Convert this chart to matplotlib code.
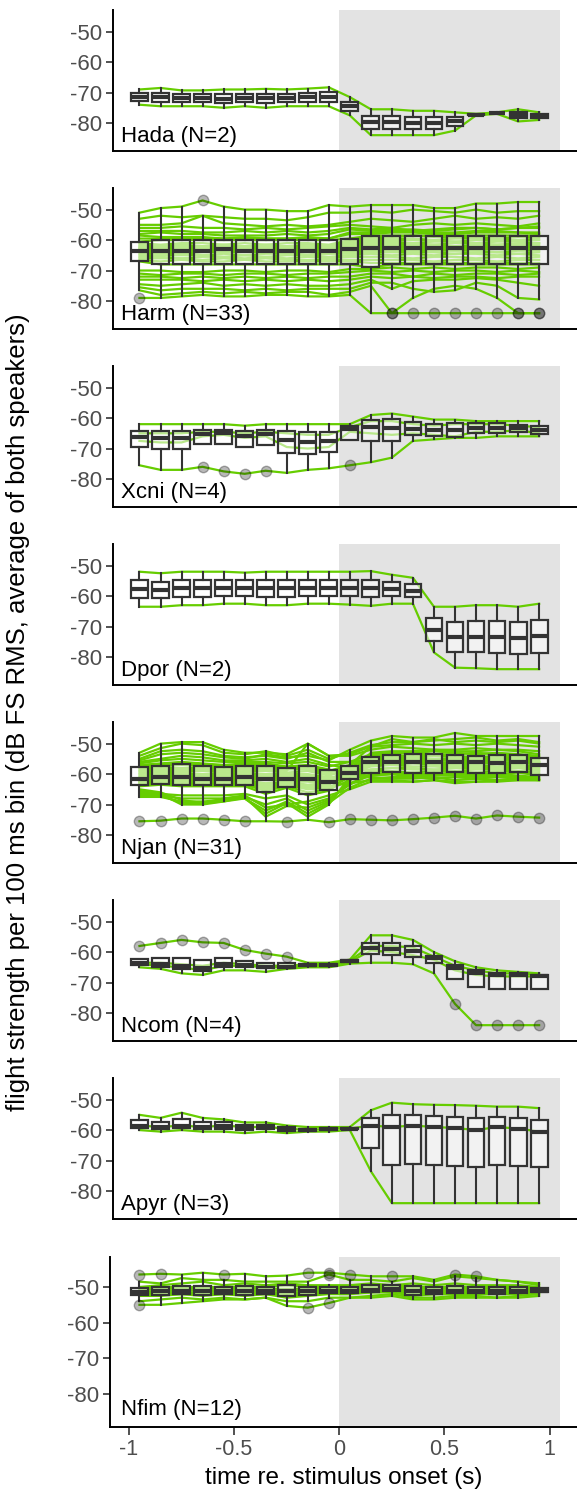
import matplotlib
matplotlib.use("Agg")
import matplotlib.pyplot as plt

plt.rcParams['font.family'] = ['Liberation Sans', 'DejaVu Sans']
plt.rcParams['axes.unicode_minus'] = False

# 100 ms bin centres (s re. stimulus onset)
bins = [-0.95, -0.85, -0.75, -0.65, -0.55, -0.45, -0.35, -0.25, -0.15, -0.05,
        0.05, 0.15, 0.25, 0.35, 0.45, 0.55, 0.65, 0.75, 0.85, 0.95]

# one list per recording, one value per bin (dB FS RMS)
hada = [
    [-69, -68.5, -69.3, -69.3, -69, -69, -68.8, -69, -68.7, -68.3, -71.5, -75.5, -75.5, -76, -76, -76.5, -77, -76.5, -75.5, -76.5],
    [-74, -74.5, -74.5, -74.5, -75, -74.5, -75, -74.5, -74.5, -74.5, -77.5, -84, -84, -84, -84, -82.5, -77.5, -77, -79.5, -79],
]

harm = [
    [-51, -49.5, -49, -47, -49, -50, -50, -50.5, -50.5, -48.5, -49, -48.5, -48.5, -48.5, -49.5, -49.5, -48, -48, -47.5, -47.5],
    [-53, -52, -52.5, -52, -52.5, -53, -53, -53.5, -52.5, -51, -51, -50.5, -51, -50, -50.5, -51, -50, -51, -50.5, -50.5],
    [-55, -55, -54.5, -52, -54.5, -55, -55.5, -55, -55.5, -55, -54, -53, -53.5, -54, -53, -52, -53, -52.5, -53, -52],
    [-56, -56, -55.5, -56, -56, -56.5, -56, -56.5, -56, -55.5, -55, -55.5, -56, -55, -54.5, -55, -54.5, -55, -55.5, -54.5],
    [-57, -57, -57, -57.5, -57.5, -57, -57.5, -57, -57.5, -57, -56, -56.5, -56, -57, -56.5, -56, -56, -56.5, -56, -55.5],
    [-58, -57.5, -58, -58, -58.5, -58.5, -58.5, -58, -58.5, -58, -56.5, -57, -56.5, -56.5, -57, -56.5, -56, -56.5, -56, -56],
    [-58.5, -59, -59, -59, -59.5, -59, -59.5, -59.5, -59, -59.5, -57.5, -57.5, -57, -57, -57.5, -57.5, -57, -57, -57.5, -57.5],
    [-59.5, -59.5, -59.5, -59.5, -59.5, -59.5, -59.5, -59.5, -59.5, -59.5, -58, -58, -57.5, -57.5, -58, -58, -57.5, -57.5, -57.5, -58],
    [-60.5, -60, -60, -60, -60, -60, -60, -60, -60, -60, -59.5, -58.5, -58.5, -58.5, -58.5, -58.5, -58.5, -58.5, -58.5, -58.5],
    [-61, -61.5, -61, -61, -61.5, -61, -61.5, -61, -61, -61.5, -60, -59, -59, -58.5, -59, -59, -59, -59.5, -59, -59],
    [-61.5, -62, -61.5, -62, -61.5, -62, -61.5, -62, -61.5, -62, -60.5, -59.5, -59.5, -59.5, -60, -59.5, -59.5, -59.5, -60, -59.5],
    [-62, -62, -62.5, -62, -62, -62.5, -62, -62, -62.5, -62, -61, -60, -60, -60, -60, -60.5, -60, -60, -60, -60],
    [-62.5, -62.5, -62, -62.5, -62.5, -62, -62.5, -62.5, -62, -62.5, -61.5, -60.5, -60.5, -61, -60.5, -60.5, -61, -60.5, -60.5, -61],
    [-62.5, -63, -62.5, -63, -62.5, -62.5, -63, -62.5, -63, -63, -62, -61, -61, -61, -61.5, -61, -61, -61.5, -61, -61],
    [-63, -62.5, -63, -62.5, -63, -63, -62.5, -63, -62.5, -63, -62, -61.5, -61.5, -61.5, -61.5, -62, -61.5, -61.5, -61.5, -61.5],
    [-63, -63, -63, -63, -63, -63.5, -63, -63, -63, -63.5, -62.5, -62, -62, -62, -62, -62, -62, -62, -62, -62],
    [-63.5, -63.5, -63.5, -63.5, -63, -63.5, -63.5, -63.5, -63.5, -63.5, -63, -62.5, -62.5, -62.5, -62.5, -62.5, -62.5, -62.5, -62.5, -62.5],
    [-63.5, -64, -63.5, -63.5, -64, -63.5, -64, -63.5, -64, -64, -63.5, -63, -63, -63, -63, -63, -63, -63, -63, -63],
    [-64, -64, -64.5, -64, -64, -64, -64, -64.5, -64, -64.5, -64, -63.5, -63.5, -63.5, -63.5, -63.5, -63.5, -64, -63.5, -63.5],
    [-64.5, -64.5, -64.5, -65, -64.5, -65, -64.5, -64.5, -65, -64.5, -64.5, -64, -64, -64, -64, -64.5, -64, -64, -64.5, -64],
    [-65, -65, -65, -65, -65.5, -65, -65.5, -65, -65, -65.5, -65, -64.5, -65, -64.5, -65, -64.5, -64.5, -65, -64.5, -65],
    [-65.5, -65.5, -66, -65.5, -65.5, -66, -65.5, -66, -65.5, -66, -65.5, -65.5, -65.5, -66, -65.5, -65.5, -66, -65.5, -66, -65.5],
    [-66, -66, -66, -66.5, -66, -66.5, -66, -66.5, -66.5, -66.5, -66.5, -66.5, -66.5, -66.5, -67, -66.5, -66.5, -67, -66.5, -66.5],
    [-66.5, -67, -66.5, -67, -67, -66.5, -67, -67, -67, -67, -67, -67.5, -67.5, -67.5, -67.5, -67.5, -67.5, -67.5, -67.5, -67.5],
    [-67, -68, -68, -68, -68, -68, -68, -68, -68, -68, -68, -69, -68, -68, -68, -68, -68, -68, -68, -68],
    [-70, -70, -70.5, -70.5, -70, -70, -70.5, -70, -70, -70.5, -69.5, -69.5, -69, -69.5, -69, -69.5, -69, -69, -69.5, -69],
    [-71, -71.5, -71, -71, -71.5, -71, -71, -71.5, -71, -71, -70.5, -70, -70.5, -70, -70.5, -70, -70, -70.5, -70, -70.5],
    [-72, -72, -72.5, -72, -72.5, -72, -72.5, -72, -72.5, -72, -72, -71, -71, -72, -71, -71.5, -71, -71, -71.5, -71],
    [-73, -73, -73, -73.5, -73, -73.5, -73, -73.5, -73, -73.5, -73, -72, -72.5, -72, -72.5, -72, -72, -72.5, -72, -72],
    [-74.5, -75, -74.5, -74, -75, -74.5, -75, -74.5, -75, -75, -74.5, -73, -76, -73.5, -73, -73, -72.5, -73, -74, -75],
    [-75.5, -76.5, -76, -76, -76, -76.5, -76, -76.5, -76, -76, -76, -74, -74, -76, -77, -76.5, -74, -75, -79, -79.5],
    [-76.5, -78, -77.5, -77, -77.5, -77, -77.5, -77, -77, -78, -77, -75, -84, -79, -76, -75, -76, -79, -84, -84],
    [-79, -79, -78.5, -78, -78.5, -78.5, -78, -78, -78.5, -78.5, -78, -84, -84, -84, -84, -84, -84, -84, -84, -84],
]

xcni = [
    [-62, -62, -62, -62, -62, -62.5, -62, -62, -62, -62, -62, -59, -58.5, -59.5, -60.5, -60.5, -61, -61, -61, -61],
    [-65, -65, -65, -64.5, -64.5, -65, -64.5, -65, -65.5, -65.5, -63, -61, -61, -62, -62.5, -62, -62, -62, -62.5, -63],
    [-67.5, -68, -68, -66, -65.5, -66.5, -66, -69.5, -70, -69.5, -64.5, -65, -65.5, -65, -65.5, -66, -64.5, -64.5, -64, -65],
    [-75.5, -77, -77, -76, -77.5, -78.3, -77.3, -78, -77, -76.5, -75.5, -74.5, -73, -67.5, -67, -66.5, -66.5, -66, -66, -66],
]

dpor = [
    [-52, -52.5, -52, -52, -52, -52.3, -52, -52, -52, -52, -52, -51.8, -53, -54, -63.5, -63.5, -63, -63, -63.5, -62.5],
    [-63.5, -63.5, -63, -63, -62.5, -62.5, -63, -63, -62.5, -62.5, -62.8, -63.2, -62.5, -62.5, -78.5, -83.5, -83.7, -84, -84, -84],
]

njan = [
    [-53, -50, -49.5, -49.5, -52, -53, -53, -53.5, -50, -54, -54, -52, -51, -51.5, -52, -52, -51.5, -52, -52, -52.5],
    [-54, -51.5, -50, -50.5, -53, -53.5, -52.5, -54, -52, -55, -53, -50.5, -49.5, -49.5, -48.5, -49.5, -49, -49.5, -49, -50],
    [-55, -52.5, -52, -52.5, -54, -54.5, -54, -55, -53, -56, -56, -55, -54.5, -55, -55.5, -55, -55, -55.5, -55, -56],
    [-55.5, -53.5, -53, -53.5, -54.5, -55, -53.5, -54.5, -54, -55.5, -52, -49, -47.5, -48, -48, -46.5, -47.5, -47.5, -47.5, -47.5],
    [-56, -55, -54, -54.5, -55.5, -55.5, -55, -56, -55, -57, -58, -57, -57, -56.5, -57, -57.5, -57, -57.5, -57, -58],
    [-56.5, -55.5, -55, -55.5, -56, -56, -56, -56.5, -56, -57.5, -56, -53.5, -53, -53, -52.5, -53, -53.5, -53, -53.5, -54],
    [-57, -56.5, -56, -56.5, -57, -56.5, -56.5, -57.5, -57, -58.5, -60, -60.5, -60, -61, -60.5, -60.5, -61, -60.5, -61, -61.5],
    [-57.5, -57, -56.5, -57, -57.5, -57, -57, -58, -57.5, -59, -57, -54.5, -54, -54, -53.5, -54, -54.5, -54, -54, -55],
    [-58, -57.5, -57, -57.5, -58, -57.5, -57.5, -58, -58, -59.5, -58, -56, -56, -55.5, -56, -56.5, -56, -56.5, -56, -57],
    [-58.5, -58, -58, -58, -58.5, -58, -58, -58.5, -58.5, -60, -59, -58.5, -58, -58.5, -58.5, -59, -58.5, -58.5, -59, -59.5],
    [-59, -58.5, -58.5, -58.5, -59, -58.5, -58.5, -59, -50, -54, -53.5, -51, -50.5, -50, -50.5, -50, -50.5, -50, -50.5, -51],
    [-59.5, -59, -59, -59, -59.5, -59, -59, -59.5, -59, -60.5, -58.5, -56, -55.5, -55, -55.5, -55.5, -56, -55.5, -55.5, -56.5],
    [-60, -59.5, -59.5, -60, -60, -59.5, -60, -60, -60, -61, -61, -61, -61.5, -61.5, -61, -62, -61.5, -62, -61.5, -62],
    [-60.5, -60, -60, -60.5, -60.5, -60, -60.5, -60.5, -60.5, -61.5, -59, -55, -54.5, -54.5, -54, -54.5, -55, -54.5, -54.5, -55.5],
    [-61, -60.5, -60.5, -61, -61, -60.5, -61, -61, -61, -62, -60, -57.5, -57, -57.5, -57.5, -58, -57.5, -58, -57.5, -58.5],
    [-61.5, -61, -61, -61.5, -61.5, -61, -61.5, -61.5, -61.5, -62.5, -58, -54, -53.5, -53, -53.5, -53.5, -53, -53.5, -53.5, -54.5],
    [-62, -61.5, -61.5, -62, -62, -61.5, -62, -62, -62, -63, -61, -59, -59, -59.5, -59, -59, -59.5, -59, -59, -60],
    [-62.5, -62, -62, -62.5, -62.5, -62, -63, -62.5, -62.5, -63.5, -59, -55.5, -55, -54.5, -55, -55, -55.5, -55, -55, -56],
    [-62.5, -61.5, -62, -62, -62, -61.5, -63.5, -62.5, -63.5, -63, -59.5, -57, -56.5, -56, -56.5, -57, -56.5, -56.5, -57, -57.5],
    [-62.5, -62, -62.5, -62.5, -62.5, -62, -64, -63, -64, -63.5, -57, -51, -48.5, -49.5, -49, -48.5, -48, -49, -48.5, -49.5],
    [-63, -62.5, -62.5, -63, -63, -62.5, -64.5, -63, -64.5, -64, -63, -62, -62, -62.5, -62, -62.5, -62.5, -62, -62, -62],
    [-63, -63, -63, -63, -63, -63, -65, -63.5, -65, -64.5, -61, -56, -55.5, -56, -55.5, -55.5, -56, -55.5, -55.5, -56.5],
    [-63.5, -63, -63.5, -63.5, -63.5, -63.5, -65.5, -64, -66, -65, -62, -58.5, -58, -58, -58.5, -58, -58, -58.5, -58, -59],
    [-64, -63.5, -64, -64, -64, -64, -66.5, -64.5, -67, -65.5, -60, -53, -52.5, -52.5, -52, -52.5, -52.5, -52, -52.5, -53.5],
    [-66.5, -66.5, -67, -67, -67, -66.5, -68, -67, -70, -68, -63.5, -60, -59.5, -60, -60, -59.5, -60, -60, -59.5, -60.5],
    [-67, -67, -68, -68, -68, -67.5, -70, -68, -72, -69, -62, -56.5, -56, -56, -56.5, -56, -56, -56.5, -56, -57],
    [-67.5, -67.5, -69, -69, -68.5, -68, -72, -69, -73, -69.5, -64.5, -61.5, -61, -61, -61.5, -61, -61.5, -61, -61.5, -61.5],
    [-66, -67, -69.5, -69.5, -69, -68, -73, -69.5, -74, -70, -61, -55.5, -55, -55.5, -55, -55, -55.5, -55, -55, -56],
    [-65.5, -66.5, -70, -70, -69, -67.5, -74, -70.5, -71, -68.5, -63, -60.5, -60, -60.5, -60, -60, -60.5, -60, -60.5, -61],
    [-65, -66, -68.5, -69.5, -68, -67, -71, -70, -69, -67, -65, -62.5, -62.5, -62.5, -62, -63, -62.5, -62.5, -62, -62],
    [-75.5, -75.3, -74.6, -74.6, -75, -75.5, -75.5, -75.6, -75, -75.8, -74.8, -75, -75.2, -74.8, -74.3, -73.7, -74.6, -73.6, -74, -74.3],
]

ncom = [
    [-58, -57, -56, -56.8, -57, -59.3, -60.5, -61.5, -63.5, -63.5, -62.5, -54.5, -54.5, -56, -60, -63, -65, -66, -66.5, -67],
    [-63.5, -63.5, -64, -64.5, -63.5, -64, -64.5, -64.5, -64, -64, -62.8, -58, -58, -58.5, -61.5, -64.5, -66, -67, -67, -67.5],
    [-64, -64.5, -65, -66, -64.5, -64.5, -65, -65, -64.5, -64.5, -63.2, -59.5, -60, -61, -62.5, -66, -67.5, -68, -68, -68],
    [-65, -65.5, -67, -67.5, -66, -66, -66.5, -65.5, -65, -65, -63.8, -63.5, -63.5, -64, -67, -77, -84, -84, -84, -84],
]

apyr = [
    [-55, -56, -54.3, -56, -56.5, -57.5, -57.5, -58.5, -59, -59, -59, -53.5, -51, -51.5, -51.7, -51.8, -52, -52.3, -52.3, -52.8],
    [-58.5, -59, -58.5, -59, -58.5, -59, -59, -59.5, -60, -59.5, -59.5, -58.5, -59, -58.5, -59, -59.3, -60, -59, -59.5, -60.5],
    [-60, -60.5, -60, -60.5, -60.5, -61, -60.5, -61, -60.5, -60.5, -60, -73.5, -84, -84, -84, -84, -84, -84, -84, -84],
]

nfim = [
    [-46.5, -46.3, -46.5, -46, -46.5, -46.3, -47, -46.8, -46, -46, -46.5, -47, -47, -47, -48, -46.5, -47, -48, -48.5, -49],
    [-48.5, -49, -47.5, -48, -48, -48.5, -48.5, -48.5, -48.5, -46.5, -48, -48, -48.5, -47.5, -48.5, -47, -47.5, -48, -48.5, -49.5],
    [-50, -49.5, -49, -48.5, -49.5, -49, -49.5, -49, -49.5, -49.5, -49.5, -49, -49.5, -49, -49.5, -49, -49.5, -49.5, -49.5, -50],
    [-50.5, -50, -50, -50, -50, -50, -50, -49.5, -50, -50, -50, -49.5, -49.5, -50, -50, -50, -50, -50, -50, -50.5],
    [-51, -50.5, -50.5, -50.5, -50.5, -50.5, -50.5, -50.5, -50.5, -50.5, -50.5, -50, -50, -50.5, -50.5, -50.5, -50.5, -50.5, -50.5, -50.5],
    [-51.5, -51, -51, -51, -51, -51, -51, -51, -51, -51, -51, -50.5, -50.5, -51, -51, -51, -51, -51, -51, -51],
    [-51.5, -51.5, -51.5, -51.5, -51, -51, -51.5, -51.5, -51.5, -51, -51, -51, -50.5, -51.5, -51.5, -51, -51, -51.5, -51, -51],
    [-52, -51.5, -51.5, -52, -51.5, -51.5, -51.5, -52, -51.5, -51.5, -51.5, -51, -51, -51.5, -51.5, -51.5, -51.5, -51.5, -51.5, -51],
    [-52, -52, -52, -52, -52, -52, -52, -52.5, -52, -51.5, -51.5, -51.5, -51, -52, -52, -51.5, -51.5, -52, -51.5, -51.5],
    [-52.5, -52.5, -52, -52.5, -52, -52.5, -52, -53, -52.5, -52, -52, -51.5, -51.5, -52.5, -52, -52, -52, -52, -52, -51.5],
    [-54, -53.5, -53, -53.5, -53, -53.5, -53, -54, -54, -53, -53, -52.5, -52, -53, -53, -52.5, -52.5, -53, -52.5, -52],
    [-55, -55, -54.5, -54, -53.5, -53.5, -53, -55.3, -55.8, -54.5, -53, -53, -52.5, -53.5, -53.5, -53, -53, -53, -53, -52.5],
]

species = ['Hada', 'Harm', 'Xcni', 'Dpor', 'Njan', 'Ncom', 'Apyr', 'Nfim']
series = [hada, harm, xcni, dpor, njan, ncom, apyr, nfim]

yticks = [-50, -60, -70, -80]
xticks = [-1, -0.5, 0, 0.5, 1]
xticklabels = ['-1', '-0.5', '0', '0.5', '1']

green = '#66CD00'
dark = '#333333'

W, H = 577, 1493
fig = plt.figure(figsize=(W / 100, H / 100), dpi=100)

# panel geometry in pixels (x of 0 s at 339.3 px, 210.35 px per second)
x0_px, px_per_s = 339.3, 210.35
right_px = 577
lefts = [113] * 7 + [110]
tops = [10 + 178 * i for i in range(7)] + [1256.7]
heights = [140.7] * 7 + [170]
ylims = [(-89.1, -42.9)] * 7 + [(-89.2, -41.5)]

for i, (name, trials) in enumerate(zip(species, series)):
    ax = fig.add_axes([lefts[i] / W, 1 - (tops[i] + heights[i]) / H,
                       (right_px - lefts[i]) / W, heights[i] / H])
    ax.axvspan(0, 1.05, color='#E3E3E3', lw=0, zorder=0)
    for tr in trials:
        ax.plot(bins, tr, color=green, lw=1.6, zorder=1, solid_joinstyle='round')
    cols = [list(c) for c in zip(*trials)]
    ax.boxplot(cols, positions=bins, widths=0.08, patch_artist=True,
               showcaps=False, whis=1.5, manage_ticks=False,
               boxprops=dict(facecolor=(1, 1, 1, 0.55), edgecolor=dark, lw=1.6, zorder=2),
               medianprops=dict(color=dark, lw=3.0, zorder=2.1),
               whiskerprops=dict(color=dark, lw=1.5, zorder=2),
               flierprops=dict(marker='o', markersize=7.5, linestyle='none',
                               markerfacecolor=(0, 0, 0, 0.28),
                               markeredgecolor=(0, 0, 0, 0.3), zorder=3))
    ax.text(-1.04, -84.3, f'{name} (N={len(trials)})', fontsize=16,
            va='center', ha='left', color='black', zorder=4)
    ax.set_xlim((lefts[i] - x0_px) / px_per_s, (right_px - x0_px) / px_per_s)
    ax.set_ylim(*ylims[i])
    ax.set_yticks(yticks)
    ax.set_yticklabels([str(v) for v in yticks])
    for s in ['top', 'right']:
        ax.spines[s].set_visible(False)
    for s in ['left', 'bottom']:
        ax.spines[s].set_linewidth(1.4)
        ax.spines[s].set_color('black')
    ax.tick_params(axis='y', length=5, width=1.2, color=dark,
                   labelsize=16, labelcolor='#4D4D4D', pad=3)
    if i < 7:
        ax.tick_params(axis='x', bottom=False, labelbottom=False)
    else:
        ax.set_xticks(xticks)
        ax.set_xticklabels(xticklabels)
        ax.tick_params(axis='x', length=6, width=1.2, color=dark,
                       labelsize=15.5, labelcolor='#4D4D4D', pad=3)
        ax.set_xlabel('time re. stimulus onset (s)', fontsize=17.5, labelpad=5)

fig.text(18 / W, 1 - 712 / H,
         'flight strength per 100 ms bin (dB FS RMS, average of both speakers)',
         rotation=90, fontsize=18.5, va='center', ha='center')

fig.savefig('out.png', dpi=100)
